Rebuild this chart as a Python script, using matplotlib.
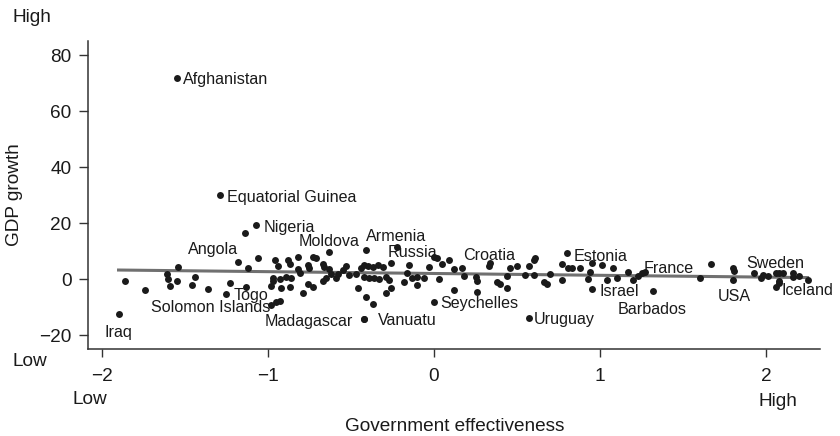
import numpy as np
import matplotlib
matplotlib.use("Agg")
import matplotlib.pyplot as plt

plt.rcParams['font.family'] = ['Liberation Sans', 'DejaVu Sans']

# unlabeled countries: government effectiveness vs GDP growth
gov_eff = [-1.86, -1.74, -1.61, -1.60, -1.59, -1.55, -1.54, -1.46, -1.44, -1.36,
           -1.23, -1.14, -1.12, -1.06, -0.96, -0.94, -0.88, -0.87, -0.82, -0.73,
           -0.71, -0.76, -0.75, -0.67, -0.66, -0.82, -0.81, -0.63, -0.58, -0.53,
           -0.55, -0.51, -0.47, -0.44, -0.41, -0.42, -1.13, -0.97, -0.97, -0.93,
           -0.98, -0.92, -0.89, -0.86, -0.87, -0.79, -0.76, -0.73, -0.67, -0.65,
           -0.62, -0.59, -0.46, -0.41, -0.95, -0.93, -0.37, -0.40, -0.37, -0.34,
           -0.31, -0.26, -0.42, -0.39, -0.36, -0.33, -0.29, -0.27, -0.26, -0.29,
           -0.15, -0.16, -0.18, -0.13, -0.10, -0.10, -0.06, -0.03, 0.02, 0.05,
           0.09, 0.03, 0.12, 0.12, 0.17, 0.18, 0.25, 0.26, 0.26, 0.34,
           0.38, 0.40, 0.44, 0.44, 0.46, 0.50, 0.55, 0.57, 0.60, 0.61,
           0.60, 0.66, 0.68, 0.70, 0.77, 0.77, 0.81, 0.83, 0.88, 0.93,
           0.94, 0.95, 1.01, 1.08, 1.04, 1.10, 1.17, 1.20, 1.23, 1.25,
           1.60, 1.67, 1.80, 1.81, 1.93, 1.97, 1.98, 2.01, 2.08, 2.10,
           2.08, 2.08, 2.16, 2.16, 2.20, 2.25]
gdp_growth = [-0.7, -4.0, 1.7, 0.0, -2.5, -0.6, 4.4, -2.1, 0.7, -3.6,
              -1.5, 16.5, 4.0, 7.4, 6.8, 4.8, 6.9, 5.3, 8.0, 7.8,
              7.4, 5.0, 3.8, 5.4, 4.4, 3.5, 2.3, 3.5, 1.7, 4.5,
              3.2, 1.4, 1.7, 3.8, 10.2, 5.0, -2.8, 0.3, -0.7, -0.1,
              -2.5, -3.3, 0.8, 0.5, -2.8, -5.1, -1.9, -2.8, -0.7, 0.5,
              1.7, 0.5, -3.3, -6.3, -8.1, -7.8, -8.9, 4.8, 4.4, 5.0,
              4.4, 5.6, 0.8, 0.3, 0.3, 0.0, 0.8, -0.4, -3.3, -5.1,
              5.0, 2.0, -1.0, 0.5, -2.1, 0.8, 0.3, 4.4, 7.4, 5.3,
              6.8, 0.0, -3.9, 3.5, 3.8, 1.1, 0.8, -0.7, -4.5, 5.6,
              -1.0, -1.9, -3.1, 1.2, 4.0, 4.8, 1.4, 4.8, 6.9, 7.4,
              1.4, -1.0, -1.9, 1.7, -0.4, 5.3, 3.8, 3.8, 3.8, 0.0,
              2.4, 5.6, 5.0, 4.0, -0.4, 0.5, 2.6, -0.4, 1.2, 2.0,
              0.3, 5.4, 4.0, 3.0, 2.0, 0.3, 1.4, 1.1, 2.0, 2.0,
              -0.6, -1.3, 2.0, 0.8, 1.1, -0.4]

# labeled countries
label_names = ['Afghanistan', 'Equatorial Guinea', 'Nigeria', 'Angola', 'Moldova',
               'Armenia', 'Russia', 'Croatia', 'Estonia', 'France', 'Sweden',
               'Iceland', 'USA', 'Barbados', 'Israel', 'Uruguay', 'Seychelles',
               'Vanuatu', 'Madagascar', 'Togo', 'Solomon Islands', 'Iraq']
label_eff = [-1.55, -1.29, -1.07, -1.18, -0.63, -0.22, 0.00, 0.33, 0.80, 1.27, 2.06,
             2.06, 1.80, 1.32, 0.95, 0.57, 0.00, -0.42, -0.42, -1.25, -0.98, -1.90]
label_gdp = [71.7, 30.0, 19.4, 5.9, 9.8, 11.5, 7.7, 4.8, 9.3, 2.4, 2.0,
             -3.0, -0.4, -4.3, -3.7, -14.0, -8.1, -14.3, -14.3, -5.4, -9.3, -12.6]

# fitted line (slope, intercept)
fit_coef = [-0.65, 1.97]

# label placement: (ha, dx px, dy px downward) relative to the marker
label_pos = {
    'Afghanistan': ('left', 6.6, 5.5), 'Equatorial Guinea': ('left', 7, 6.8),
    'Nigeria': ('left', 7, 7.1), 'Angola': ('right', 0, -8.4),
    'Moldova': ('center', 0, -5.2), 'Armenia': ('center', -1, -5.9),
    'Russia': ('right', 3.7, -0.5), 'Croatia': ('center', 0, -5.9),
    'Estonia': ('left', 6.7, 7.8), 'France': ('left', -1, 1.2),
    'Sweden': ('center', -0.7, -5.8), 'Iceland': ('left', 5, 7.5),
    'USA': ('center', 1, 20.8), 'Barbados': ('center', -0.6, 23.1),
    'Israel': ('left', 7.3, 6.5), 'Uruguay': ('left', 5.3, 6),
    'Seychelles': ('left', 6.7, 6.5), 'Vanuatu': ('left', 13.7, 6),
    'Madagascar': ('right', -11.3, 6.5), 'Togo': ('left', 7, 6),
    'Solomon Islands': ('right', -1, 6.7), 'Iraq': ('center', 0, 22.4),
}

W, H = 840, 436
fig = plt.figure(figsize=(W / 100, H / 100), dpi=100)
ax = fig.add_axes([88 / W, 87 / H, 732 / W, 308 / H])

all_x = np.array(gov_eff + label_eff)
xs = np.array([all_x.min(), all_x.max()])
ax.plot(xs, np.polyval(fit_coef, xs), color='#707070', lw=2.2, zorder=2)

dot = '#1a1a1a'
ax.scatter(gov_eff, gdp_growth, s=25, color=dot, lw=0, zorder=3)
ax.scatter(label_eff, label_gdp, s=25, color=dot, lw=0, zorder=3)

for name, x, y in zip(label_names, label_eff, label_gdp):
    ha, dx, dy = label_pos[name]
    ax.annotate(name, (x, y), xytext=(dx * 0.72, -dy * 0.72), textcoords='offset points',
                ha=ha, va='baseline', fontsize=11.6, color='#1a1a1a', zorder=4)

ax.set_xlim(-2.084, 2.325)
ax.set_ylim(-25, 85)
ax.set_xticks([-2, -1, 0, 1, 2])
ax.set_yticks([-20, 0, 20, 40, 60, 80])
for s in ['top', 'right']:
    ax.spines[s].set_visible(False)
for s in ['left', 'bottom']:
    ax.spines[s].set_color('#333333')
    ax.spines[s].set_linewidth(1.1)
ax.tick_params(axis='y', length=6.5, width=1, color='#333333', pad=5.3,
               labelsize=13.7, labelcolor='#1a1a1a')
ax.tick_params(axis='x', length=6, width=1, color='#333333', pad=8,
               labelsize=13.7, labelcolor='#1a1a1a')

def ftext(px, py, s, **kw):
    fig.text(px / W, 1 - py / H, s, fontsize=13.7, color='#1a1a1a', **kw)

ftext(12.7, 17, 'High', ha='left', va='center')
ftext(12.7, 361, 'Low', ha='left', va='center')
ftext(90, 399, 'Low', ha='center', va='center')
ftext(778, 401, 'High', ha='center', va='center')
ftext(15, 195, 'GDP growth', ha='center', va='center', rotation=90)
ftext(454.5, 426, 'Government effectiveness', ha='center', va='center')

fig.savefig('out.png', dpi=100, facecolor='white')
